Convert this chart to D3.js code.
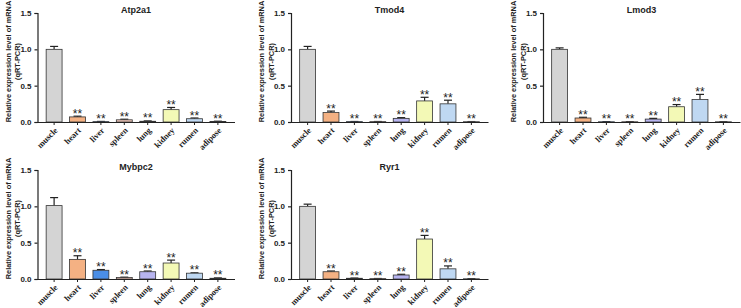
<!DOCTYPE html>
<html>
<head>
<meta charset="utf-8">
<script src="https://cdn.jsdelivr.net/npm/d3@7"></script>
<style>
  body { margin: 0; background: #fff; }
  svg { display: block; }
</style>
</head>
<body>
<div id="chart"></div>
<script>
const tissues = ["muscle", "heart", "liver", "spleen", "lung", "kidney", "rumen", "adipose"];
const barColors = ["#d4d4d4", "#f4b183", "#4a8ee6", "#f8cdc0", "#b7b4f0", "#f3f9b6", "#bfd8f2", "#e6e6e6"];
const yTicks = [0, 0.5, 1.0, 1.5];

const genes = ["Atp2a1", "Tmod4", "Lmod3", "Mybpc2", "Ryr1"];
const atp2a1 = [1.0, 0.07, 0.005, 0.03, 0.01, 0.17, 0.045, 0.008];
const atp2a1Err = [0.04, 0.01, 0.003, 0.008, 0.005, 0.03, 0.01, 0.003];
const tmod4 = [1.0, 0.13, 0.005, 0.005, 0.05, 0.29, 0.25, 0.004];
const tmod4Err = [0.04, 0.02, 0.002, 0.002, 0.01, 0.05, 0.05, 0.002];
const lmod3 = [1.0, 0.055, 0.003, 0.003, 0.04, 0.21, 0.31, 0.003];
const lmod3Err = [0.02, 0.01, 0.002, 0.002, 0.01, 0.03, 0.07, 0.002];
const mybpc2 = [1.01, 0.27, 0.12, 0.02, 0.1, 0.22, 0.08, 0.01];
const mybpc2Err = [0.11, 0.05, 0.01, 0.005, 0.01, 0.04, 0.005, 0.005];
const ryr1 = [1.0, 0.1, 0.01, 0.005, 0.055, 0.55, 0.14, 0.003];
const ryr1Err = [0.03, 0.01, 0.003, 0.002, 0.01, 0.05, 0.04, 0.002];

const panels = [
  {title: genes[0], vals: atp2a1, errs: atp2a1Err, left: 37.5, top: 13},
  {title: genes[1], vals: tmod4, errs: tmod4Err, left: 291, top: 13},
  {title: genes[2], vals: lmod3, errs: lmod3Err, left: 543, top: 13},
  {title: genes[3], vals: mybpc2, errs: mybpc2Err, left: 37.5, top: 170},
  {title: genes[4], vals: ryr1, errs: ryr1Err, left: 291, top: 170}
];

const width = 741, height = 308;
const w = 197, h = 109;
const sans = "Liberation Sans, Arial, sans-serif";
const serif = "Liberation Serif, Times New Roman, serif";

const svg = d3.select("#chart")
    .append("svg")
    .attr("width", width)
    .attr("height", height);

const x = d3.scaleBand().domain(tissues).range([0, w]).paddingInner(0.32).paddingOuter(0.37);
const y = d3.scaleLinear().domain([0, 1.5]).range([h, 0]);

panels.forEach(p => {
  const g = svg.append("g").attr("transform", "translate(" + p.left + "," + p.top + ")");
  const data = tissues.map((t, i) => ({t, v: p.vals[i], e: p.errs[i], c: barColors[i]}));
  const cx = d => x(d.t) + x.bandwidth() / 2;

  // error bars (upper half only)
  const eb = g.append("g").selectAll("g").data(data).join("g");
  eb.append("line")
    .attr("x1", cx).attr("x2", cx)
    .attr("y1", d => y(d.v))
    .attr("y2", d => y(d.v + d.e))
    .attr("stroke", "#222").attr("stroke-width", 1.2);
  eb.append("line")
    .attr("x1", d => cx(d) - 4)
    .attr("x2", d => cx(d) + 4)
    .attr("y1", d => y(d.v + d.e))
    .attr("y2", d => y(d.v + d.e))
    .attr("stroke", "#222").attr("stroke-width", 1.2);

  g.append("g")
    .selectAll("rect")
    .data(data)
    .join("rect")
    .attr("x", d => x(d.t))
    .attr("y", d => y(d.v))
    .attr("width", x.bandwidth())
    .attr("height", d => h - y(d.v))
    .attr("fill", d => d.c)
    .attr("stroke", "#333")
    .attr("stroke-width", 0.8);

  // significance marks
  g.append("g")
    .selectAll("text")
    .data(data.slice(1))
    .join("text")
    .attr("x", cx)
    .attr("y", d => y(d.v + d.e) + 1.5)
    .attr("text-anchor", "middle")
    .attr("font-family", sans)
    .attr("font-size", 12)
    .attr("fill", "#222")
    .text("**");

  const yAxis = d3.axisLeft(y).tickValues(yTicks).tickFormat(d3.format(".1f")).tickSize(3);
  const ya = g.append("g").call(yAxis);
  ya.selectAll("path, line").attr("stroke", "#222").attr("stroke-width", 1.2);
  ya.selectAll("text").attr("font-size", 8).attr("font-weight", "bold").attr("fill", "#222")
    .attr("font-family", sans);

  const xAxis = d3.axisBottom(x).tickSize(3).tickSizeOuter(0).tickFormat("");
  const xa = g.append("g").attr("transform", "translate(0," + h + ")").call(xAxis);
  xa.select(".domain").attr("stroke", "#222").attr("stroke-width", 1.2);
  xa.selectAll("line").attr("stroke", "#222");

  // tilted tissue labels
  g.append("g")
    .selectAll("text")
    .data(data)
    .join("text")
    .style("transform", d => "translate(" + (cx(d) + 4) + "px," + (h + 9) + "px) rotate(-45deg)")
    .attr("text-anchor", "end")
    .attr("font-family", serif)
    .attr("font-weight", "bold")
    .attr("font-size", 8.5)
    .attr("fill", "#222")
    .text(d => d.t);

  g.append("text")
    .attr("x", w / 2)
    .attr("y", 0)
    .attr("text-anchor", "middle")
    .attr("font-family", sans)
    .attr("font-size", 9)
    .attr("font-weight", "bold")
    .attr("fill", "#222")
    .text(p.title);

  const lab = g.append("text")
    .attr("transform", "translate(-27," + (h / 2 - 6) + ") rotate(-90)")
    .attr("text-anchor", "middle")
    .attr("font-family", sans)
    .attr("font-size", 7.4)
    .attr("font-weight", "bold")
    .attr("fill", "#222");
  lab.append("tspan").attr("x", 0).attr("y", 0).text("Relative expression level of mRNA");
  lab.append("tspan").attr("x", 0).attr("y", 9.5).text("(qRT-PCR)");
});
</script>
</body>
</html>
